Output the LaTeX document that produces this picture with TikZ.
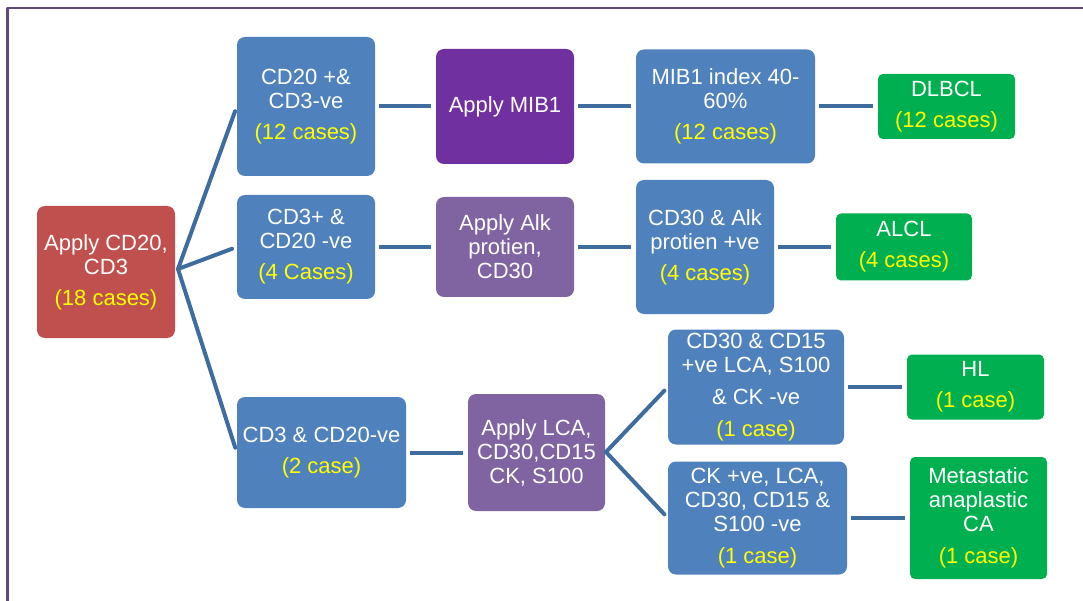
\documentclass[tikz,border=0pt]{standalone}
\usepackage{fontspec}
\setmainfont{Liberation Sans}
\definecolor{boxred}{HTML}{C0504D}
\definecolor{boxblue}{HTML}{4F81BD}
\definecolor{boxviolet}{HTML}{7030A0}
\definecolor{boxmauve}{HTML}{8064A2}
\definecolor{boxgreen}{HTML}{00B050}
\definecolor{linkblue}{HTML}{3F6C9F}
\definecolor{framepurple}{HTML}{5F497A}
\definecolor{caseyellow}{HTML}{FFFF00}
\newcommand{\ncase}[1]{\textcolor{caseyellow}{#1}}
\begin{document}
\begin{tikzpicture}[x=1pt,y=-1pt,line join=round,line cap=round,
	font=\fontsize{22}{24}\selectfont,
	every node/.style={align=center,text=white,inner sep=1pt},
	redbox/.style={fill=boxred,rounded corners=8pt},
	bluebox/.style={fill=boxblue,rounded corners=8pt},
	violetbox/.style={fill=boxviolet,rounded corners=8pt},
	mauvebox/.style={fill=boxmauve,rounded corners=8pt},
	greenbox/.style={fill=boxgreen,rounded corners=5pt},
	link/.style={draw=linkblue,line width=4pt,line cap=butt,shorten <=4pt,shorten >=5pt}]
	\useasboundingbox (0,0) rectangle (1083,601);
	% khung
	\draw[framepurple,line width=2.5pt,line cap=butt] (7.5,601)--(7.5,8)--(1083,8);
	
	\node[redbox,minimum width=138,minimum height=132] (root) at (106,272) {Apply CD20,\\CD3\\[7pt]\ncase{(18 cases)}};
	
	\node[bluebox,minimum width=138,minimum height=139] (cdA) at (306,106.5) {CD20 +\&\\CD3-ve\\[7pt]\ncase{(12 cases)}};
	\node[bluebox,minimum width=138,minimum height=104] (cdB) at (306,247) {CD3+ \&\\CD20 -ve\\[7pt]\ncase{(4 Cases)}};
	\node[bluebox,minimum width=169,minimum height=111] (cdC) at (321.5,452.5) {CD3 \& CD20-ve\\[7pt]\ncase{(2 case)}};
	
	\node[violetbox,minimum width=138,minimum height=115] (mib) at (505,106.5) {Apply MIB1};
	\node[mauvebox,minimum width=138,minimum height=100] (alk) at (505,247) {Apply Alk\\protien,\\CD30};
	\node[mauvebox,minimum width=137,minimum height=117] (lca) at (536.5,452.5) {Apply LCA,\\CD30,CD15\\CK, S100};
	
	\node[bluebox,minimum width=179,minimum height=114] (idx) at (725.5,106.5) {MIB1 index 40-\\60\%\\[7pt]\ncase{(12 cases)}};
	\node[bluebox,minimum width=138,minimum height=134] (alkp) at (705,247) {CD30 \& Alk\\protien +ve\\[7pt]\ncase{(4 cases)}};
	\node[bluebox,minimum width=176,minimum height=115] (hlm) at (756,387) {CD30 \& CD15\\+ve LCA, S100\\[8pt]\& CK -ve\\[8pt]\ncase{(1 case)}};
	\node[bluebox,minimum width=179,minimum height=113] (ckp) at (757.5,518) {CK +ve, LCA,\\CD30, CD15 \&\\S100 -ve\\[8pt]\ncase{(1 case)}};
	
	\node[greenbox,minimum width=137,minimum height=65] (dlbcl) at (946.5,106.5) {DLBCL\\[7pt]\ncase{(12 cases)}};
	\node[greenbox,minimum width=136,minimum height=67] (alcl) at (904,247) {ALCL\\[7pt]\ncase{(4 cases)}};
	\node[greenbox,minimum width=137,minimum height=65] (hl) at (975.5,387) {HL\\[7pt]\ncase{(1 case)}};
	\node[greenbox,minimum width=137,minimum height=122] (meta) at (978.5,518) {Metastatic\\anaplastic\\CA\\[8pt]\ncase{(1 case)}};
	
	% nhanh
	\coordinate (rfork) at (178,269);
	\coordinate (lfork) at (606,452);
	\foreach \t in {cdA,cdB,cdC} \draw[link,line cap=round,shorten <=0pt] (rfork)--(\t.west);
	\foreach \t in {hlm,ckp} \draw[link,line cap=round,shorten <=0pt] (lfork)--(\t.west);
	\draw[link] (cdA.east)--(mib.west);
	\draw[link] (cdB.east)--(alk.west);
	\draw[link] (cdC.east)--(lca.west);
	\draw[link] (mib.east)--(idx.west);
	\draw[link] (alk.east)--(alkp.west);
	\draw[link] (idx.east)--(dlbcl.west);
	\draw[link] (alkp.east)--(alcl.west);
	\draw[link] (hlm.east)--(hl.west);
	\draw[link] (ckp.east)--(meta.west);
\end{tikzpicture}
\end{document}
